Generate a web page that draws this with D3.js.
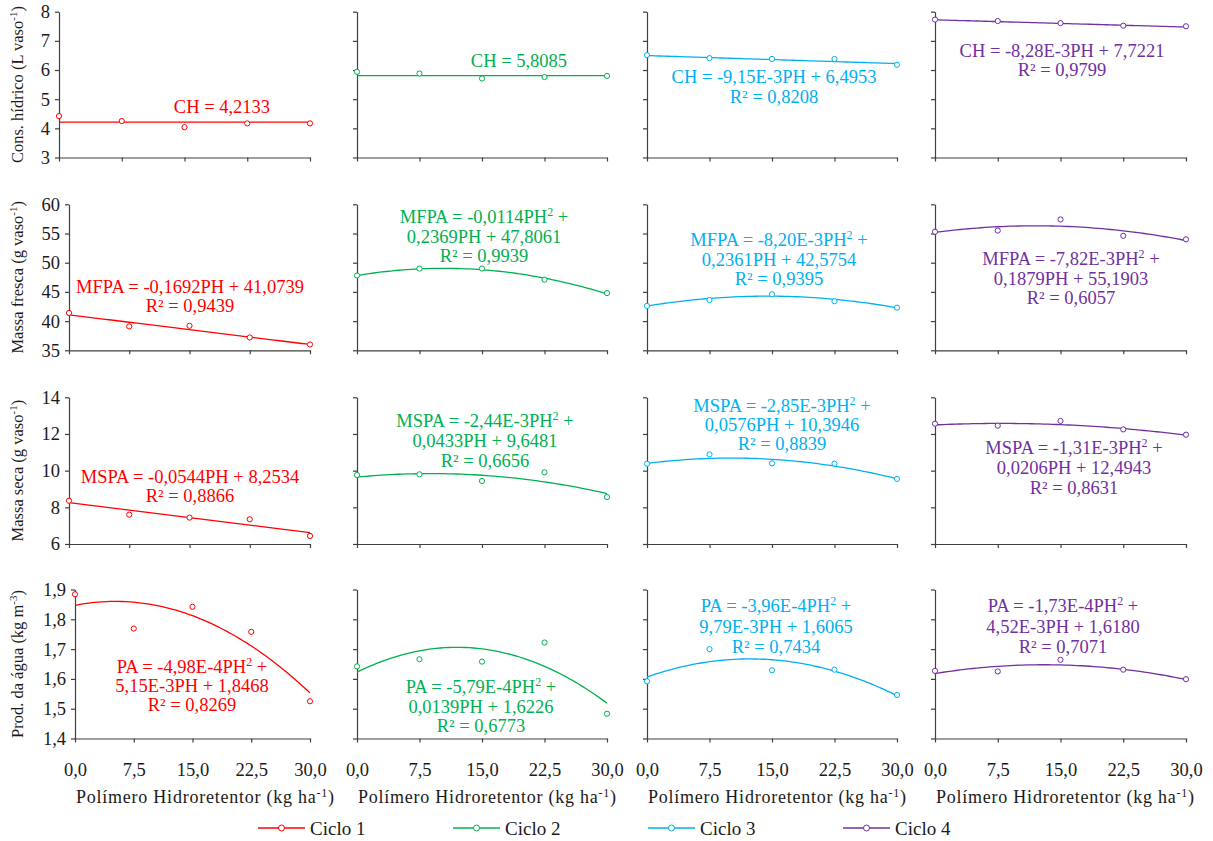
<!DOCTYPE html>
<html><head><meta charset="utf-8">
<script src="https://cdn.jsdelivr.net/npm/d3@7"></script>
<style>
body{margin:0;background:#fff;}
svg text{font-family:"Liberation Serif","Times New Roman",serif;}
</style></head><body>
<svg id="chart" width="1213" height="841"></svg>
<script>
// ---------- data ----------
const doses = [0, 7.5, 15, 22.5, 30];
const doseLabels = ["0,0", "7,5", "15,0", "22,5", "30,0"];
const cycles = ["Ciclo 1", "Ciclo 2", "Ciclo 3", "Ciclo 4"];

const consHidrico = [[4.42, 4.25, 4.04, 4.17, 4.17], [5.94, 5.88, 5.71, 5.76, 5.80], [6.51, 6.41, 6.38, 6.38, 6.18], [7.73, 7.68, 7.61, 7.52, 7.50]];
const massaFresca = [[41.4, 39.1, 39.2, 37.2, 36.0], [47.8, 49.0, 49.0, 47.1, 44.8], [42.6, 43.6, 44.6, 43.4, 42.3], [55.3, 55.5, 57.4, 54.6, 54.0]];
const massaSeca = [[8.36, 7.60, 7.44, 7.35, 6.44], [9.76, 9.80, 9.44, 9.91, 8.56], [10.38, 10.89, 10.40, 10.38, 9.55], [12.56, 12.45, 12.71, 12.25, 11.96]];
const prodAgua = [[1.884, 1.769, 1.842, 1.758, 1.525], [1.642, 1.666, 1.658, 1.722, 1.483], [1.592, 1.700, 1.629, 1.631, 1.546], [1.627, 1.625, 1.664, 1.631, 1.599]];

// fitted equations: [a, b, c] for a*PH^2 + b*PH + c
const chFit = [[0, 0, 4.2133], [0, 0, 5.8085], [0, -9.15e-3, 6.4953], [0, -8.28e-3, 7.7221]];
const mfFit = [[0, -0.1692, 41.0739], [-0.0114, 0.2369, 47.8061], [-8.20e-3, 0.2361, 42.5754], [-7.82e-3, 0.1879, 55.1903]];
const msFit = [[0, -0.0544, 8.2534], [-2.44e-3, 0.0433, 9.6481], [-2.85e-3, 0.0576, 10.3946], [-1.31e-3, 0.0206, 12.4943]];
const paFit = [[-4.98e-4, 5.15e-3, 1.8468], [-5.79e-4, 0.0139, 1.6226], [-3.96e-4, 9.79e-3, 1.6065], [-1.73e-4, 4.52e-3, 1.6180]];

const chEq = [["CH = 4,2133"], ["CH = 5,8085"], ["CH = -9,15E-3PH + 6,4953", "R² = 0,8208"], ["CH = -8,28E-3PH + 7,7221", "R² = 0,9799"]];
const mfEq = [["MFPA = -0,1692PH + 41,0739", "R² = 0,9439"], ["MFPA = -0,0114PH^2 +", "0,2369PH + 47,8061", "R² = 0,9939"], ["MFPA = -8,20E-3PH^2 +", "0,2361PH + 42,5754", "R² = 0,9395"], ["MFPA = -7,82E-3PH^2 +", "0,1879PH + 55,1903", "R² = 0,6057"]];
const msEq = [["MSPA = -0,0544PH + 8,2534", "R² = 0,8866"], ["MSPA = -2,44E-3PH^2 +", "0,0433PH + 9,6481", "R² = 0,6656"], ["MSPA = -2,85E-3PH^2 +", "0,0576PH + 10,3946", "R² = 0,8839"], ["MSPA = -1,31E-3PH^2 +", "0,0206PH + 12,4943", "R² = 0,8631"]];
const paEq = [["PA = -4,98E-4PH^2 +", "5,15E-3PH + 1,8468", "R² = 0,8269"], ["PA = -5,79E-4PH^2 +", "0,0139PH + 1,6226", "R² = 0,6773"], ["PA = -3,96E-4PH^2 +", "9,79E-3PH + 1,6065", "R² = 0,7434"], ["PA = -1,73E-4PH^2 +", "4,52E-3PH + 1,6180", "R² = 0,7071"]];

const chTicks = [3, 4, 5, 6, 7, 8];
const mfTicks = [35, 40, 45, 50, 55, 60];
const msTicks = [6, 8, 10, 12, 14];
const paTicks = [1.4, 1.5, 1.6, 1.7, 1.8, 1.9];

const yTitles = [["Cons. hídrico (L vaso", "-1", ")"], ["Massa fresca (g vaso", "-1", ")"], ["Massa seca (g vaso", "-1", ")"], ["Prod. da água (kg m", "-3", ")"]];
const xTitle = ["Polímero Hidroretentor (kg ha", "-1", ")"];

// ---------- styles / layout ----------
const colors = ["#FF0000", "#00B050", "#00B0F0", "#7030A0"];
const rowDefs = [
  {vals: consHidrico, fit: chFit, eq: chEq, ticks: chTicks, dec: 0},
  {vals: massaFresca, fit: mfFit, eq: mfEq, ticks: mfTicks, dec: 0},
  {vals: massaSeca, fit: msFit, eq: msEq, ticks: msTicks, dec: 0},
  {vals: prodAgua, fit: paFit, eq: paEq, ticks: paTicks, dec: 1}
];
const rowBox = [
  {top: 11.7, bottom: 157.5, left1: 59},
  {top: 204.3, bottom: 350.3, left1: 69},
  {top: 397.3, bottom: 544, left1: 69},
  {top: 589.5, bottom: 738.5, left1: 75}
];
const colBox = [{left: null, right: 310}, {left: 357, right: 607}, {left: 647, right: 897}, {left: 935, right: 1186}];
// equation label positions: [centerX, firstBaseline, lineGap]
const eqPos = [
  [[222, 113, 19], [519, 67, 19], [774, 83, 20], [1062, 57, 19]],
  [[190, 293, 19], [484, 223, 19.5], [779, 246, 19.5], [1071, 265, 19.5]],
  [[190, 483, 19], [485, 427, 20], [782, 412, 19], [1074, 454, 20]],
  [[192, 673, 19], [481, 693, 19.5], [776, 612, 20.5], [1063, 612, 20.5]]
];
const FS = 18.5;
const axisColor = "#404040";
const textColor = "#1a1a1a";

const loc = d3.formatLocale({decimal: ",", thousands: ".", grouping: [3], currency: ["R$", ""]});

const svg = d3.select("#chart");

function addSupText(sel, parts, supSize) {
  sel.append("tspan").text(parts[0]);
  sel.append("tspan").attr("dy", -6).attr("font-size", supSize).text(parts[1]);
  sel.append("tspan").attr("dy", 6).text(parts[2]);
}

rowDefs.forEach((rd, r) => {
  const rb = rowBox[r];
  const y = d3.scaleLinear().domain([rd.ticks[0], rd.ticks[rd.ticks.length - 1]]).range([rb.bottom, rb.top]);
  const fmt = rd.dec ? (v => loc.format(".1f")(v)) : (v => loc.format("d")(v));

  // y title
  const yt = svg.append("text")
    .attr("transform", `translate(23,${(rb.top + rb.bottom) / 2}) rotate(-90)`)
    .attr("text-anchor", "middle").attr("font-size", 16.5).attr("fill", textColor);
  addSupText(yt, yTitles[r], 11);

  colBox.forEach((cb, c) => {
    const left = c === 0 ? rb.left1 : cb.left;
    const x = d3.scaleLinear().domain([0, 30]).range([left, cb.right]);
    const g = svg.append("g");
    const color = colors[c];

    // y axis
    const ya = g.append("g").attr("transform", `translate(${left},0)`)
      .call(d3.axisLeft(y).tickValues(rd.ticks).tickSize(4).tickSizeOuter(0).tickPadding(5)
        .tickFormat(c === 0 ? fmt : ""));
    // x axis
    const xa = g.append("g").attr("transform", `translate(0,${rb.bottom})`)
      .call(d3.axisBottom(x).tickValues(doses).tickSize(4).tickSizeOuter(0).tickPadding(20)
        .tickFormat(r === 3 ? ((d, i) => doseLabels[i]) : ""));
    [ya, xa].forEach(a => {
      a.select(".domain").attr("stroke", axisColor).attr("stroke-width", 1.2);
      a.selectAll(".tick line").attr("stroke", axisColor).attr("stroke-width", 1.2);
      a.selectAll("text").attr("font-size", FS).attr("fill", textColor)
        .attr("font-family", "'Liberation Serif','Times New Roman',serif");
    });

    // fitted curve
    const f = rd.fit[c];
    const curve = d3.range(0, 30.001, 0.5).map(p => [p, f[0] * p * p + f[1] * p + f[2]]);
    g.append("path").datum(curve)
      .attr("d", d3.line().x(d => x(d[0])).y(d => y(d[1])))
      .attr("fill", "none").attr("stroke", color).attr("stroke-width", 1.3);

    // observed points
    g.selectAll("circle.pt").data(rd.vals[c]).join("circle")
      .attr("class", "pt")
      .attr("cx", (d, i) => x(doses[i])).attr("cy", d => y(d)).attr("r", 2.6)
      .attr("fill", "#fff").attr("stroke", color).attr("stroke-width", 1);

    // equation text
    const [ex, ey, gap] = eqPos[r][c];
    rd.eq[c].forEach((line, li) => {
      const t = g.append("text").attr("x", ex).attr("y", ey + li * gap)
        .attr("text-anchor", "middle").attr("font-size", FS).attr("fill", color);
      if (line.includes("^2")) {
        const [a, b] = line.split("^2");
        t.append("tspan").text(a);
        t.append("tspan").attr("dy", -7).attr("font-size", 12).text("2");
        t.append("tspan").attr("dy", 7).text(b);
      } else {
        t.text(line);
      }
    });

    // x title (bottom row)
    if (r === 3) {
      const xt = svg.append("text").attr("x", left + 1).attr("y", 803)
        .attr("font-size", 18).attr("fill", textColor)
        .attr("textLength", 258).attr("lengthAdjust", "spacing");
      addSupText(xt, xTitle, 12);
    }
  });
});

// legend
const legX = [258, 453, 648, 843];
cycles.forEach((name, i) => {
  const lg = svg.append("g").attr("transform", `translate(${legX[i]},828)`);
  lg.append("line").attr("x1", 0).attr("x2", 47).attr("y1", 0).attr("y2", 0)
    .attr("stroke", colors[i]).attr("stroke-width", 1.3);
  lg.append("circle").attr("cx", 23.5).attr("cy", 0).attr("r", 3)
    .attr("fill", "#fff").attr("stroke", colors[i]).attr("stroke-width", 1);
  lg.append("text").attr("x", 52).attr("y", 6.5).attr("font-size", 19).attr("fill", textColor).text(name);
});
</script>
</body></html>
